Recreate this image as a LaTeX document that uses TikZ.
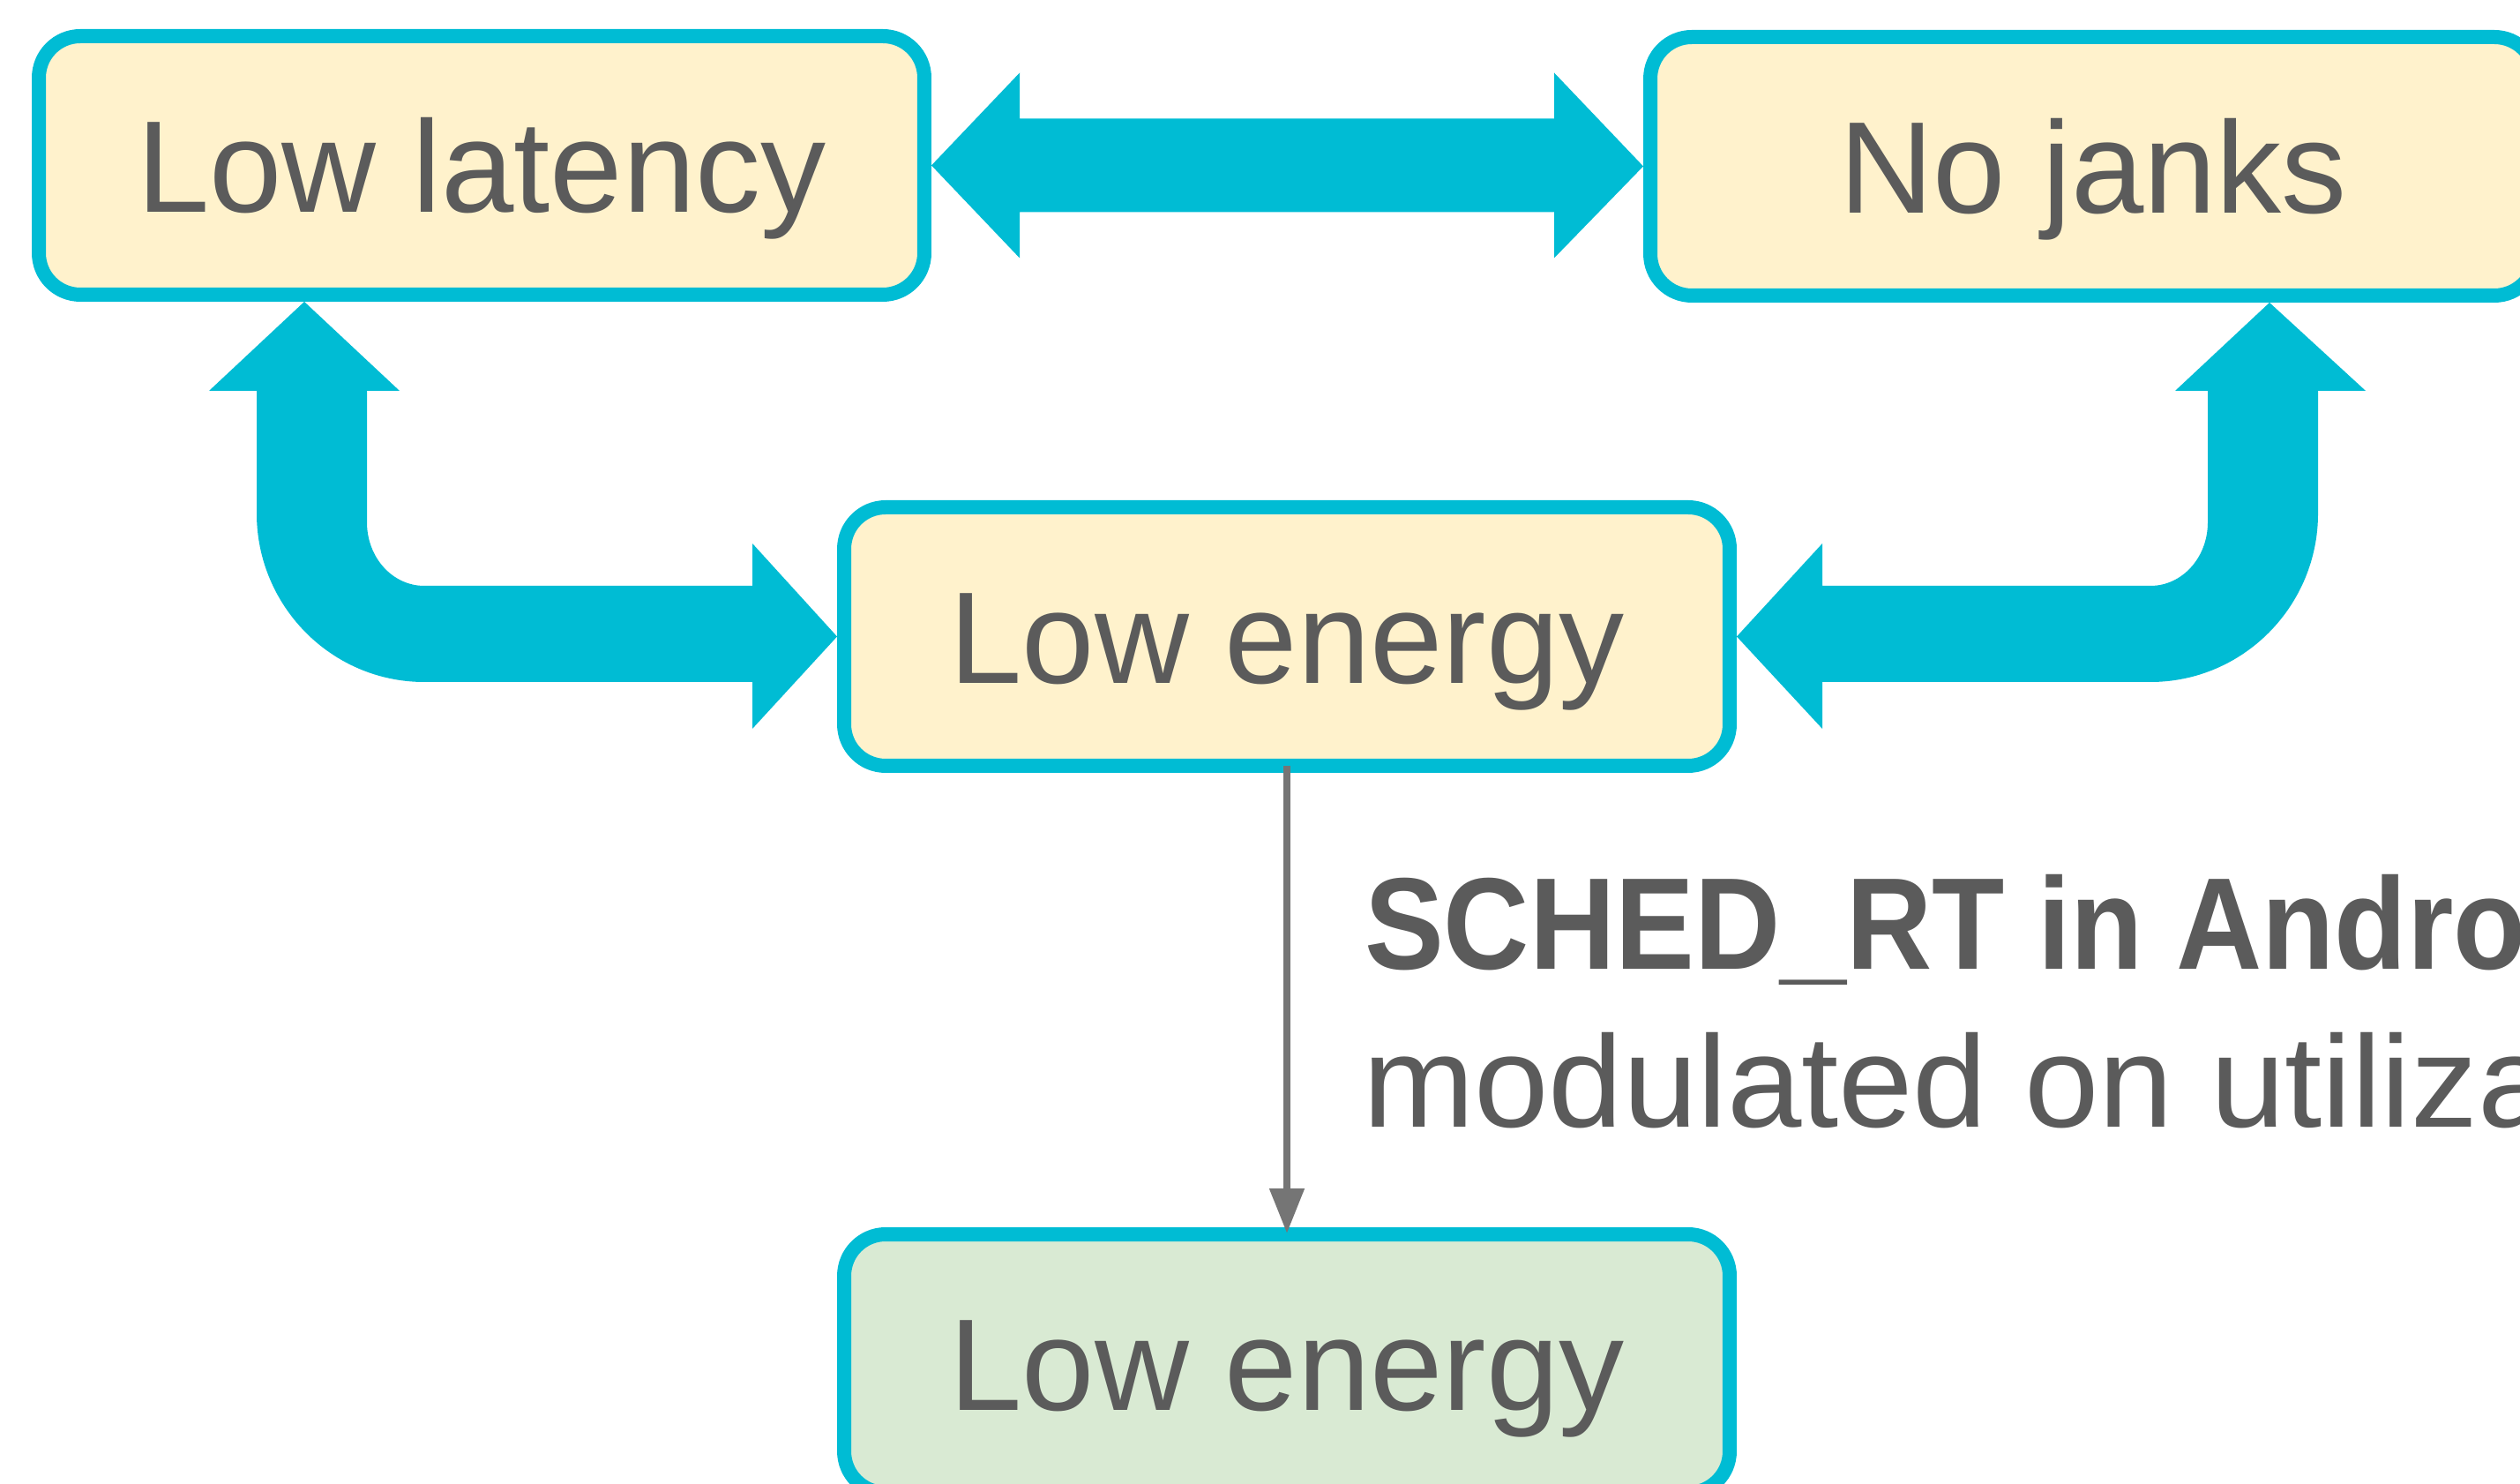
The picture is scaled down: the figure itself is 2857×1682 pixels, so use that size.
\documentclass[tikz,border=0pt]{standalone}
\usepackage{fontspec}
\setmainfont{Liberation Sans}
\newfontfamily\notebold{Liberation Sans Bold}[FakeStretch=0.91]
\newfontfamily\notereg{Liberation Sans}[FakeStretch=1.025]
\usetikzlibrary{arrows.meta}

\definecolor{flowcyan}{HTML}{00BCD4}
\definecolor{paleyellow}{HTML}{FFF2CC}
\definecolor{palegreen}{HTML}{D9EAD3}
\definecolor{ink}{HTML}{5B5B5B}
\definecolor{linkgray}{HTML}{757575}

\begin{document}
\begin{tikzpicture}[x=0.1pt, y=-0.1pt,
  box/.style={draw=flowcyan, line width=1.6pt, rounded corners=4.7pt,
    minimum width=100.4pt, minimum height=29.3pt, inner sep=0pt,
    text=ink, font=\fontsize{14.8pt}{17pt}\selectfont,
    text height=10.6pt, text depth=0pt},
  flow/.style={fill=flowcyan},
  link/.style={draw=linkgray, line width=0.8pt,
    -{Triangle[length=5.1pt, width=3.8pt]}},
  note/.style={anchor=base west, inner sep=0pt, text=ink}]

\useasboundingbox (0,0) rectangle (2857,1682);

% goal boxes
\node[box, fill=paleyellow] (lat)     at (546,187.5)   {Low latency};
\node[box, fill=paleyellow] (jank)    at (2373,188.5)  {No janks};
\node[box, fill=paleyellow] (energy)  at (1459,721.5)  {Low energy};
\node[box, fill=palegreen]  (energy2) at (1459,1545.5) {Low energy};

% trade-off between latency and janks
\fill[flow] (lat.east) -- (1156,82.5) -- (1156,134.5) -- (1762,134.5)
  -- (1762,82.5) -- (jank.west) -- (1762,292.5) -- (1762,240.5)
  -- (1156,240.5) -- (1156,292.5) -- cycle;

% trade-off between latency and energy
\coordinate (lup) at ([xshift=-20.1pt]lat.south);
\fill[flow] (lup) -- (453,443) -- (416,443) -- (416,592)
  .. controls (416,632) and (445,664) .. (481,664)
  -- (853,664) -- (853,616) -- (energy.west) -- (853,826) -- (853,773)
  -- (481,773) .. controls (376,773) and (291,687) .. (291,582)
  -- (291,443) -- (237,443) -- cycle;

% trade-off between janks and energy
\coordinate (rup) at ([xshift=20pt]jank.south);
\fill[flow] (rup) -- (2466,443) -- (2503,443) -- (2503,592)
  .. controls (2503,632) and (2474,664) .. (2438,664)
  -- (2066,664) -- (2066,616) -- (energy.east) -- (2066,826) -- (2066,773)
  -- (2438,773) .. controls (2543,773) and (2628,687) .. (2628,582)
  -- (2628,443) -- (2682,443) -- cycle;

% scheduling step
\draw[link] ([yshift=0.8pt]energy.south) -- ([yshift=-0.7pt]energy2.north);

\node[note, font=\notebold\fontsize{14.8pt}{17pt}\selectfont] (rt) at (1545,1099)
  {SCHED\_RT in Android};
\node[note, font=\notereg\fontsize{14.8pt}{17pt}\selectfont] (mod) at (1543,1278)
  {modulated on utilization};
\end{tikzpicture}
\end{document}
